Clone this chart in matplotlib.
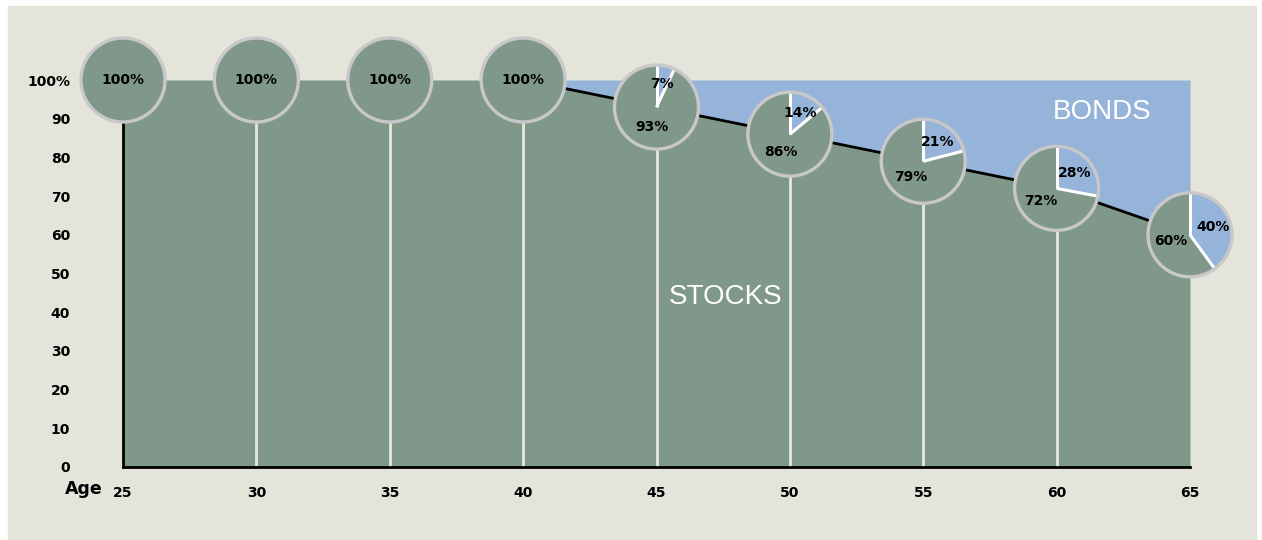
import numpy as np
import matplotlib
matplotlib.use("Agg")
import matplotlib.pyplot as plt
import matplotlib.patches as mpatches
import matplotlib.transforms as mtransforms

# data
ages = [25, 30, 35, 40, 45, 50, 55, 60, 65]
stocks = [100, 100, 100, 100, 93, 86, 79, 72, 60]
bonds = [0, 0, 0, 0, 7, 14, 21, 28, 40]
yticks = [0, 10, 20, 30, 40, 50, 60, 70, 80, 90, 100]
ylabels = ["0", "10", "20", "30", "40", "50", "60", "70", "80", "90", "100%"]

GREEN = "#7f988a"
BLUE = "#96b3d9"
BG = "#e4e4da"
RING = "#c8c8c8"

W, H = 1262, 540
fig = plt.figure(figsize=(W / 100, H / 100), dpi=100, facecolor="white")
fig.patches.append(mpatches.Rectangle((8 / W, 0), 1248 / W, 534 / H,
                                      transform=fig.transFigure, color=BG, zorder=-10))

ax = fig.add_axes([123 / W, (H - 467) / H, 1067 / W, 387 / H])
ax.set_facecolor("none")
ax.set_xlim(25, 65)
ax.set_ylim(0, 100)

num = dict(family="DejaVu Sans", fontweight="bold", fontsize=10)
big = dict(family="Liberation Sans", fontsize=20, color="white")

# areas
ax.fill_between(ages, stocks, 100, color=BLUE, lw=0, zorder=1)
ax.fill_between(ages, 0, stocks, color=GREEN, lw=0, zorder=1)
ax.plot(ages[3:], stocks[3:], color="black", lw=2, zorder=2)

# white stems under the pies
for a, s in zip(ages[1:-1], stocks[1:-1]):
    ax.plot([a, a], [0, s], color="#e8e8e0", lw=2, zorder=2)

for sp in ["top", "right"]:
    ax.spines[sp].set_visible(False)
for sp in ["left", "bottom"]:
    ax.spines[sp].set_linewidth(2)
    ax.spines[sp].set_zorder(3)

ax.set_yticks(yticks)
ax.set_yticklabels(ylabels, **num)
ax.set_xticks(ages)
ax.set_xticklabels([str(a) for a in ages], **num)
ax.tick_params(axis="y", length=0, pad=38)
ax.tick_params(axis="x", length=0, pad=14)

fig.text(103 / W, 1 - 489 / H, "Age", ha="right", va="center",
         family="DejaVu Sans", fontweight="bold", fontsize=12.5)

ax.text(47.6, 43.9, "STOCKS", ha="center", va="center", **big)
ax.text(61.7, 91.7, "BONDS", ha="center", va="center", **big)

# pies
r = 0.42
for a, s, b in zip(ages, stocks, bonds):
    tr = fig.dpi_scale_trans + mtransforms.ScaledTranslation(a, s, ax.transData)
    cut = 90 - 360 * b / 100
    if b > 0:
        ax.add_patch(mpatches.Wedge((0, 0), r, cut, 90, color=BLUE, lw=0,
                                    transform=tr, zorder=5, clip_on=False))
        ax.add_patch(mpatches.Wedge((0, 0), r, 90, cut + 360, color=GREEN, lw=0,
                                    transform=tr, zorder=5, clip_on=False))
        for ang in [90, cut]:
            ax.plot([0, r * np.cos(np.radians(ang))], [0, r * np.sin(np.radians(ang))],
                    color="white", lw=2.2, transform=tr, zorder=6, clip_on=False,
                    solid_capstyle="butt")
        mb = np.radians(90 - 180 * b / 100)
        ax.text(0.57 * r * np.cos(mb), 0.57 * r * np.sin(mb), f"{b}%",
                ha="center", va="center", transform=tr, zorder=8, **num)
        ms = np.radians(cut - 180 * s / 100)
        ax.text(0.48 * r * np.cos(ms), 0.48 * r * np.sin(ms), f"{s}%",
                ha="center", va="center", transform=tr, zorder=8, **num)
    else:
        ax.add_patch(mpatches.Circle((0, 0), r, color=GREEN, lw=0,
                                     transform=tr, zorder=5, clip_on=False))
        ax.text(0, 0, f"{s}%", ha="center", va="center", transform=tr,
                zorder=8, **num)
    ax.add_patch(mpatches.Circle((0, 0), r, facecolor="none", edgecolor=RING, lw=2.4,
                                 transform=tr, zorder=7, clip_on=False))

fig.savefig("out.png", dpi=100, facecolor="white")
